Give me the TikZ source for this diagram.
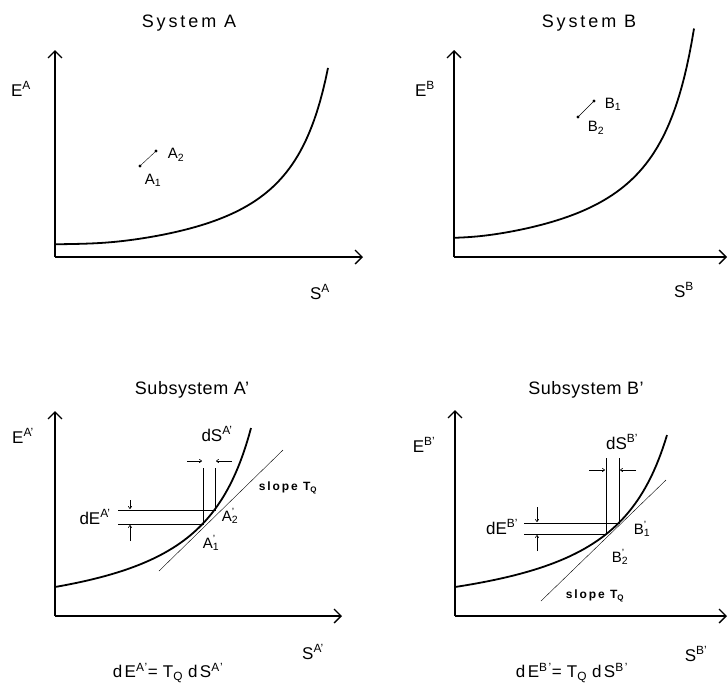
\documentclass[tikz,border=0pt]{standalone}
\usepackage{fontspec}
\setmainfont{Liberation Sans}
\usetikzlibrary{arrows.meta}
\newcommand{\supsub}[2]{\makebox[0pt][l]{\textsuperscript{#1}}\textsubscript{#2}}

\begin{document}
\begin{tikzpicture}[x=1pt, y=-1pt, every node/.style={font=\fontsize{17}{19}\selectfont, inner sep=0pt},
	axis/.style={line width=1.3pt, -{Straight Barb[length=7pt, width=14pt]}},
	curve/.style={line width=1.8pt},
	guide/.style={line width=0.7pt},
	tangent/.style={line width=0.4pt},
	dim/.style={line width=0.6pt, -{To[length=3pt, width=4pt]}},
	toptitle/.style={font=\fontsize{18}{21}\selectfont\addfontfeature{LetterSpace=16}},
	title/.style={font=\fontsize{18}{21}\selectfont\addfontfeature{LetterSpace=3}},
	pt/.style={font=\fontsize{15}{17}\selectfont\addfontfeature{LetterSpace=6}},
	slope/.style={font=\fontsize{12}{14}\selectfont\bfseries\addfontfeature{LetterSpace=16}},
	eq/.style={font=\fontsize{17}{19}\selectfont\addfontfeature{LetterSpace=14}},
	declare function={soft(\f)=5*(\f/10+sqrt((\f/10)*(\f/10)+0.16));}]
	\useasboundingbox (0,0) rectangle (728,686);

	% System A
	\node[toptitle] (titleA) at (189,23) {System A};
	\coordinate (oA) at (55,257);
	\draw[axis] (oA) -- (55,50);
	\draw[axis] (oA) -- (363,257);
	\node (EA) at (21,89) {E\textsuperscript{A}};
	\node (SA) at (320,292) {S\textsuperscript{A}};
	\draw[curve] plot[domain=55:328, samples=100] (\x, {245 - soft(8806/(370-\x) - 32.61)});
	\coordinate (A1) at (140,166);
	\coordinate (A2) at (156,151);
	\draw[tangent] (A1) -- (A2);
	\foreach \p in {A1,A2} {\fill (\p) circle (1.6);}
	\node[pt] (labA1) at (153,180) {A\textsubscript{1}};
	\node[pt] (labA2) at (176,155) {A\textsubscript{2}};

	% System B
	\node[toptitle] (titleB) at (589,23) {System B};
	\coordinate (oB) at (454,257);
	\draw[axis] (oB) -- (454,50);
	\draw[axis] (oB) -- (727,257);
	\node (EB) at (425,89) {E\textsuperscript{B}};
	\node (SB) at (684,290) {S\textsuperscript{B}};
	\draw[curve] plot[domain=454:694, samples=100] (\x, {239 - soft(9921/(734-\x) - 37.58)});
	\coordinate (B1) at (594,101);
	\coordinate (B2) at (578,117);
	\draw[tangent] (B1) -- (B2);
	\foreach \p in {B1,B2} {\fill (\p) circle (1.6);}
	\node[pt] (labB1) at (613,104) {B\textsubscript{1}};
	\node[pt] (labB2) at (596,128) {B\textsubscript{2}};

	% Subsystem A'
	\node[title] (titleAp) at (192,390) {Subsystem A'};
	\coordinate (oAp) at (55,616);
	\draw[axis] (oAp) -- (55,411);
	\draw[axis] (oAp) -- (342,616);
	\node (EAp) at (23,436) {E\textsuperscript{A'}};
	\node (SAp) at (313,652) {S\textsuperscript{A'}};
	\coordinate (Ap1) at (203,524);
	\coordinate (Ap2) at (215,510);
	\draw[curve] plot[domain=55:251, samples=100] (\x, {587 - 10950/(305-\x) + 43.8});
	\draw[tangent] (159,571) -- (283,450);
	\draw[guide] (118,510) -- (Ap2) -- (215,468);
	\draw[guide] (118,524) -- (Ap1) -- (203,468);
	\draw[dim] (187,461) -- (202,461);
	\draw[dim] (232,461) -- (216,461);
	\draw[dim] (130,500) -- (130,509);
	\draw[dim] (130,541) -- (130,525);
	\node (dSAp) at (217,434) {dS\textsuperscript{A'}};
	\node (dEAp) at (95,517) {dE\textsuperscript{A'}};
	\node[slope] (slopeA) at (288,488) {slope T\textsubscript{Q}};
	\node[pt] (labAp2) at (230,516) {A\supsub{'}{2}};
	\node[pt] (labAp1) at (211,543) {A\supsub{'}{1}};
	\node[eq] (eqA) at (168,673) {dE\textsuperscript{A'}=\hspace{0.3em}T\textsubscript{Q}\hspace{0.3em}dS\textsuperscript{A'}};

	% Subsystem B'
	\node[title] (titleBp) at (586,390) {Subsystem B'};
	\coordinate (oBp) at (455,616);
	\draw[axis] (oBp) -- (455,410);
	\draw[axis] (oBp) -- (727,616);
	\node (EBp) at (424,445) {E\textsuperscript{B'}};
	\node (SBp) at (696,654) {S\textsuperscript{B'}};
	\coordinate (Bp1) at (619,523);
	\coordinate (Bp2) at (606,534);
	\draw[curve] plot[domain=455:667, samples=100] (\x, {587 - 11226/(725-\x) + 41.58});
	\draw[tangent] (541,601) -- (666,480);
	\draw[guide] (524,523) -- (Bp1) -- (619,458);
	\draw[guide] (524,534) -- (Bp2) -- (606,458);
	\draw[dim] (589,470) -- (605,470);
	\draw[dim] (636,470) -- (620,470);
	\draw[dim] (537,507) -- (537,522);
	\draw[dim] (537,551) -- (537,535);
	\node (dSBp) at (622,442) {dS\textsuperscript{B'}};
	\node (dEBp) at (502,527) {dE\textsuperscript{B'}};
	\node[slope] (slopeB) at (595,596) {slope T\textsubscript{Q}};
	\node[pt] (labBp1) at (642,529) {B\supsub{'}{1}};
	\node[pt] (labBp2) at (620,557) {B\supsub{'}{2}};
	\node[eq] (eqB) at (572,673) {dE\textsuperscript{B'}=\hspace{0.3em}T\textsubscript{Q}\hspace{0.3em}dS\textsuperscript{B'}};
\end{tikzpicture}
\end{document}
